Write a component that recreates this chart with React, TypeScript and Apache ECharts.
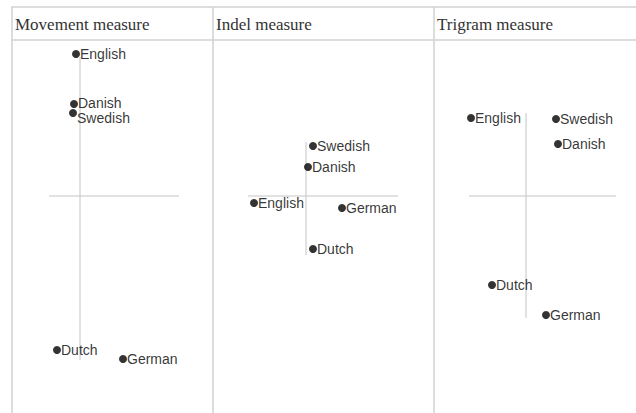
import React, { useEffect, useRef } from "react";
import * as echarts from "echarts";

// Panel titles
const panelTitles = ["Movement measure", "Indel measure", "Trigram measure"];

// Language labels per panel
const movementLangs = ["English", "Danish", "Swedish", "Dutch", "German"];
const indelLangs = ["Swedish", "Danish", "English", "German", "Dutch"];
const trigramLangs = ["English", "Swedish", "Danish", "Dutch", "German"];

// MDS coordinates (dimension 1, dimension 2)
const movementX = [-0.04, -0.06, -0.07, -0.23, 0.43];
const movementY = [1.42, 0.92, 0.83, -1.54, -1.63];
const indelX = [0.07, 0.02, -0.52, 0.36, 0.07];
const indelY = [0.5, 0.29, -0.07, -0.12, -0.53];
const trigramX = [-0.55, 0.3, 0.32, -0.34, 0.2];
const trigramY = [0.78, 0.77, 0.52, -0.89, -1.19];

// Cross (axis) extents per panel: [xFrom, xTo], [yFrom, yTo]
const movementCrossX = [-0.31, 0.99];
const movementCrossY = [1.39, -1.64];
const indelCrossX = [-0.58, 0.92];
const indelCrossY = [0.54, -0.59];
const trigramCrossX = [-0.57, 0.9];
const trigramCrossY = [0.83, -1.22];

const W = 636;
const H = 413;
const TOP = 40;
const CENTER_Y = 196;
const SCALE = 100; // px per unit
const panelEdges = [12, 213, 434, 636];
const panelCenters = [80, 306, 526];

export default function App() {
  const ref = useRef<HTMLDivElement>(null);
  useEffect(() => {
    if (!ref.current) return;
    const chart = echarts.init(ref.current, undefined, { renderer: "svg" });
    const panels = [
      { langs: movementLangs, xs: movementX, ys: movementY, cx: movementCrossX, cy: movementCrossY },
      { langs: indelLangs, xs: indelX, ys: indelY, cx: indelCrossX, cy: indelCrossY },
      { langs: trigramLangs, xs: trigramX, ys: trigramY, cx: trigramCrossX, cy: trigramCrossY },
    ];
    const grids: any[] = [];
    const xAxes: any[] = [];
    const yAxes: any[] = [];
    const series: any[] = [];
    panels.forEach((p, i) => {
      const left = panelEdges[i];
      const right = panelEdges[i + 1];
      grids.push({ left, top: TOP, width: right - left, height: H - TOP });
      xAxes.push({
        type: "value",
        gridIndex: i,
        min: (left - panelCenters[i]) / SCALE,
        max: (right - panelCenters[i]) / SCALE,
        show: false,
      });
      yAxes.push({
        type: "value",
        gridIndex: i,
        min: -(H - CENTER_Y) / SCALE,
        max: (CENTER_Y - TOP) / SCALE,
        show: false,
      });
      const lineStyle = { color: "#c4c4c4", width: 1 };
      series.push({
        type: "line",
        xAxisIndex: i,
        yAxisIndex: i,
        data: [[p.cx[0], 0], [p.cx[1], 0]],
        symbol: "none",
        silent: true,
        lineStyle,
        z: 1,
      });
      series.push({
        type: "line",
        xAxisIndex: i,
        yAxisIndex: i,
        data: [[0, p.cy[0]], [0, p.cy[1]]],
        symbol: "none",
        silent: true,
        lineStyle,
        z: 1,
      });
      series.push({
        type: "scatter",
        xAxisIndex: i,
        yAxisIndex: i,
        symbol: "circle",
        symbolSize: 8,
        itemStyle: { color: "#000" },
        z: 3,
        label: {
          show: true,
          position: "right",
          distance: 0,
          formatter: (d: any) => d.name,
          color: "#000",
          fontFamily: "Liberation Sans, Arial, sans-serif",
          fontSize: 14,
        },
        data: p.langs.map((n, k) => {
          const item: any = { name: n, value: [p.xs[k], p.ys[k]] };
          if (i === 0 && n === "Swedish") item.label = { offset: [0, 5] };
          if (i === 0 && n === "Danish") item.label = { offset: [0, -1] };
          return item;
        }),
      });
    });

    const border = { stroke: "#d2d2d2", lineWidth: 1.5 };
    const graphic: any[] = [
      { type: "line", shape: { x1: 11, y1: 7, x2: W, y2: 7 }, style: border, silent: true },
      { type: "line", shape: { x1: 11, y1: 40, x2: W, y2: 40 }, style: border, silent: true },
      ...panelEdges.slice(0, 3).map((x) => ({
        type: "line",
        shape: { x1: x, y1: 7, x2: x, y2: H },
        style: border,
        silent: true,
      })),
      ...panelTitles.map((t, i) => ({
        type: "text",
        x: panelEdges[i] + 3,
        y: 24,
        style: {
          text: t,
          fill: "#333",
          font: '17px "Liberation Serif", "Times New Roman", serif',
          verticalAlign: "middle",
        },
        silent: true,
      })),
    ];

    chart.setOption({
      animation: false,
      backgroundColor: "#fff",
      grid: grids,
      xAxis: xAxes,
      yAxis: yAxes,
      series,
      graphic,
    });
    return () => chart.dispose();
  }, []);
  return (
    <div
      ref={ref}
      style={{ position: "absolute", left: 0, top: 0, width: W, height: H }}
    />
  );
}
